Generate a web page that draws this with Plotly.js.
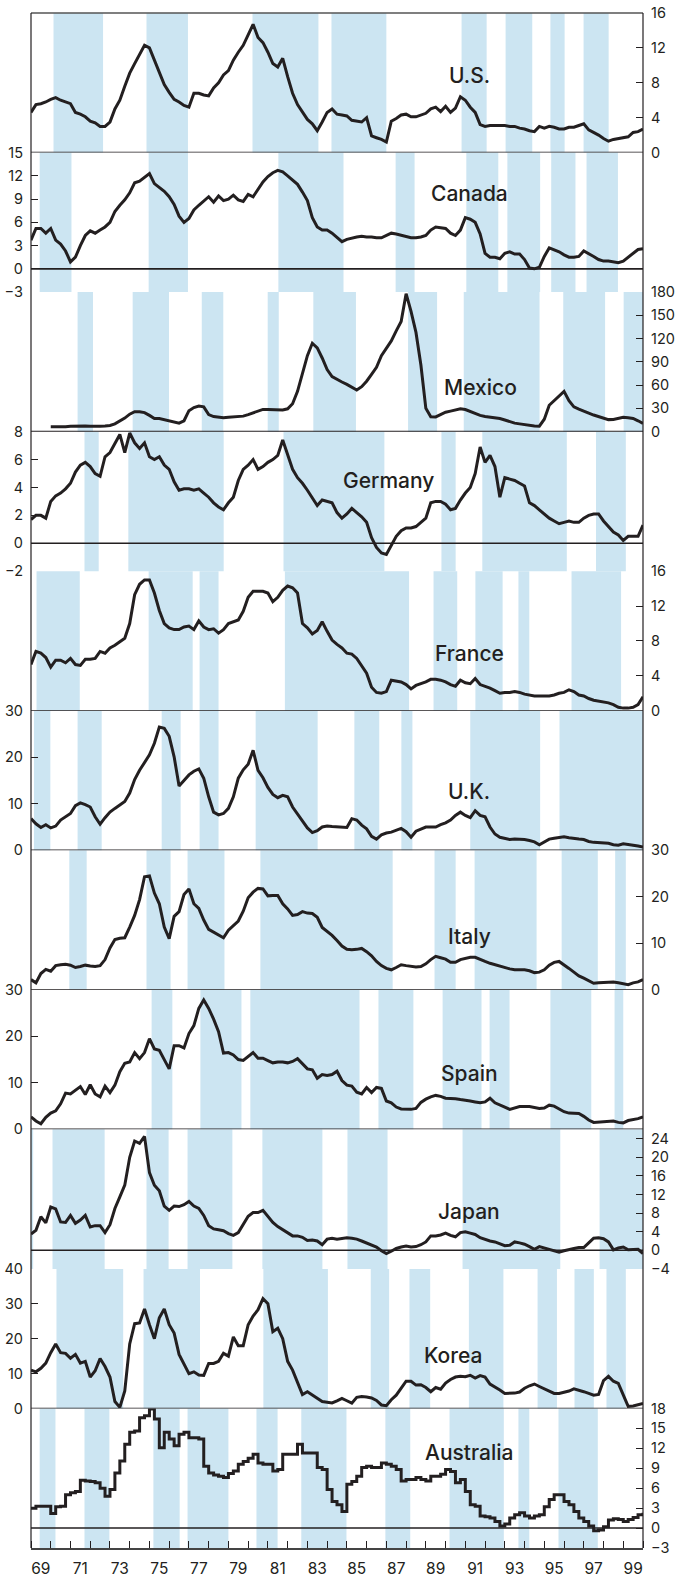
<!DOCTYPE html>
<html><head><meta charset="utf-8">
<script src="https://cdn.plot.ly/plotly-3.0.1.min.js"></script>
<style>html,body{margin:0;padding:0;background:#fff}#chart{width:676px;height:1578px}</style>
</head><body><div id="chart"></div>
<script>
// Quarterly readings, 1969.00 .. 2000.00 (125 points)
const startYear = 1969, endYear = 2000, perYear = 4;

const us = [4.6,5.5,5.6,5.8,6.1,6.3,6.0,5.8,5.6,4.6,
4.4,4.1,3.6,3.4,3.0,3.0,3.5,5.0,6.0,7.6,
9.1,10.2,11.2,12.3,12.0,10.6,9.4,7.8,6.9,6.1,
5.8,5.4,5.2,6.8,6.8,6.6,6.5,7.4,8.0,8.9,
9.4,10.6,11.5,12.3,13.5,14.7,13.2,12.6,11.5,10.2,
9.8,10.8,8.7,6.8,5.5,4.6,3.8,3.3,2.5,3.5,
4.6,5.0,4.4,4.3,4.2,3.7,3.6,3.5,4.0,1.9,
1.7,1.5,1.2,3.6,3.9,4.3,4.4,4.1,4.1,4.3,
4.5,5.0,5.2,4.7,5.3,4.6,5.1,6.4,6.0,5.2,
4.6,3.2,3.0,3.1,3.1,3.1,3.1,3.0,3.0,2.8,
2.7,2.5,2.4,3.0,2.8,3.0,2.9,2.7,2.7,2.9,
2.9,3.1,3.3,2.6,2.3,2.0,1.6,1.3,1.5,1.6,
1.7,1.8,2.3,2.4,2.7];

const canada = [3.7,5.2,5.2,4.6,5.2,3.7,3.2,2.3,0.9,1.5,
3.0,4.3,4.9,4.6,5.0,5.4,6.0,7.4,8.2,8.9,
9.8,11.1,11.3,11.8,12.3,11.0,10.5,10.0,9.3,8.3,
6.8,6.0,6.5,7.6,8.2,8.8,9.3,8.6,9.4,8.8,
9.0,9.5,8.9,8.7,9.6,9.3,10.3,11.2,11.9,12.4,
12.7,12.5,12.0,11.4,10.9,9.9,8.8,6.6,5.4,5.0,
5.0,4.6,4.0,3.5,3.8,4.0,4.1,4.2,4.1,4.1,
4.0,4.0,4.3,4.6,4.5,4.3,4.1,4.0,4.0,4.1,
4.3,5.0,5.4,5.3,5.2,4.6,4.3,5.0,6.6,6.4,
6.0,4.5,2.0,1.5,1.5,1.3,2.0,2.2,1.9,1.9,
1.2,0.1,0.0,0.2,1.6,2.7,2.5,2.2,1.8,1.5,
1.5,1.6,2.3,2.0,1.6,1.2,1.0,1.0,0.9,0.8,
1.0,1.5,1.9,2.5,2.6];

const mexico = [null,null,null,null,6.4,6.2,6.0,6.2,6.8,7.2,
7.3,7.3,7.0,6.5,6.8,7.3,8.0,10.0,13.5,17.5,
22.5,25.7,25.7,24.5,21.0,17.0,17.0,15.5,13.5,12.5,
11.0,14.0,27.0,31.0,33.0,32.0,22.0,19.5,18.5,18.0,
18.5,19.0,19.3,20.0,22.0,24.0,26.5,28.7,28.7,28.7,
28.0,28.0,29.5,36.0,52.0,75.0,98.0,114.0,108.0,95.0,
80.0,71.0,67.0,64.0,61.0,57.0,53.6,58.0,65.0,74.0,
83.0,98.0,108.0,117.0,130.0,142.0,178.0,155.0,128.0,86.0,
30.0,19.3,19.0,22.0,25.0,26.5,28.0,29.5,28.5,25.7,
23.0,21.0,19.5,18.5,17.5,17.0,15.0,12.5,11.0,10.0,
9.0,8.0,7.3,7.0,16.0,34.0,40.0,46.0,52.0,40.0,
32.0,29.0,26.0,24.0,21.4,19.5,17.0,15.5,15.7,17.0,
18.5,18.0,17.0,14.0,10.7];

const germany = [1.7,2.0,2.0,1.8,3.0,3.4,3.6,3.9,4.3,5.1,
5.6,5.8,5.5,5.0,4.8,6.2,6.5,7.2,7.8,6.5,
7.9,7.2,6.8,7.2,6.2,6.0,6.2,5.6,5.3,4.4,
3.8,3.9,3.9,3.8,3.9,3.6,3.3,2.9,2.6,2.4,
2.9,3.3,4.5,5.3,5.6,6.0,5.3,5.5,5.8,6.0,
6.3,7.4,6.4,5.3,4.7,4.3,3.8,3.2,2.7,3.1,
3.0,2.9,2.2,1.8,2.1,2.5,2.2,1.9,1.5,0.4,
-0.3,-0.7,-0.8,-0.1,0.5,0.9,1.1,1.1,1.2,1.5,
1.8,2.9,3.0,3.0,2.8,2.4,2.5,3.1,3.6,4.0,
5.0,6.9,5.8,6.3,5.5,3.3,4.7,4.6,4.5,4.3,
4.1,2.9,2.7,2.4,2.1,1.8,1.6,1.4,1.5,1.6,
1.5,1.5,1.8,2.0,2.1,2.1,1.6,1.2,0.8,0.6,
0.2,0.5,0.5,0.5,1.3];

const france = [5.3,6.8,6.6,6.1,5.0,5.8,5.8,5.5,6.0,5.3,
5.2,5.9,5.9,6.0,6.8,6.6,7.2,7.5,7.9,8.3,
10.0,13.3,14.5,15.0,15.0,13.5,11.5,10.0,9.5,9.3,
9.3,9.6,9.7,9.3,10.3,9.6,9.3,9.4,8.9,9.3,
10.0,10.2,10.4,11.4,13.0,13.7,13.7,13.7,13.5,12.5,
13.0,13.8,14.3,14.1,13.5,10.0,9.5,8.8,9.2,10.2,
9.1,8.1,7.6,7.2,6.6,6.5,6.0,5.1,4.3,2.7,
2.1,2.0,2.2,3.5,3.4,3.3,3.0,2.5,2.9,3.1,
3.3,3.6,3.6,3.5,3.3,3.0,2.8,3.5,3.2,3.1,
3.7,3.0,2.8,2.6,2.3,2.0,2.1,2.1,2.2,2.1,
1.9,1.8,1.7,1.7,1.7,1.7,1.8,2.0,2.1,2.4,
2.2,1.8,1.7,1.4,1.2,1.1,1.0,0.9,0.7,0.4,
0.3,0.3,0.4,0.7,1.6];

const uk = [6.8,5.7,4.9,5.5,4.8,5.2,6.5,7.3,7.9,9.6,
10.2,9.8,9.3,7.2,5.6,7.0,8.2,9.0,9.7,10.5,
12.3,15.2,17.2,18.8,20.5,23.0,26.5,26.2,24.5,20.1,
13.8,15.0,16.2,17.0,17.5,15.5,11.5,8.2,7.6,7.9,
9.0,11.5,15.5,17.3,18.5,21.5,17.2,15.6,13.5,12.0,
11.3,11.8,11.5,9.3,7.8,6.3,4.8,3.8,4.2,5.0,
5.2,5.1,5.0,4.9,4.9,6.8,6.5,5.4,4.6,3.0,
2.4,3.3,3.7,3.9,4.3,4.7,4.0,2.8,4.1,4.6,
5.0,5.0,5.0,5.5,5.9,6.5,7.5,8.2,7.5,7.0,
8.5,7.5,7.2,5.0,3.5,2.8,2.5,2.3,2.4,2.4,
2.3,2.1,1.8,1.2,1.8,2.4,2.6,2.8,2.9,2.7,
2.5,2.4,2.3,1.9,1.7,1.6,1.6,1.5,1.2,1.1,
1.4,1.3,1.1,0.9,0.7];

const italy = [2.2,1.5,3.5,4.4,4.0,5.2,5.4,5.5,5.3,4.8,
5.0,5.3,5.1,5.0,5.2,6.5,9.0,10.8,11.1,11.2,
13.5,16.0,19.4,24.3,24.5,20.8,18.5,13.5,11.0,15.8,
16.8,20.5,21.7,18.5,17.5,15.0,13.0,12.4,11.9,11.2,
12.8,13.8,14.8,16.9,19.8,21.0,21.8,21.7,20.2,20.3,
20.3,18.5,17.4,16.0,16.2,16.8,16.5,16.4,15.6,13.4,
12.6,11.7,10.6,9.4,8.7,8.6,8.7,8.9,8.2,7.3,
6.1,5.2,4.6,4.3,4.8,5.4,5.2,5.1,4.9,5.0,
5.6,6.5,7.2,6.9,6.6,5.9,5.9,6.5,6.8,7.0,
7.0,6.5,6.1,5.7,5.4,5.0,4.8,4.5,4.3,4.3,
4.3,4.1,3.7,3.8,4.3,5.3,5.9,6.1,5.4,4.6,
3.8,3.0,2.5,1.9,1.4,1.5,1.6,1.7,1.7,1.5,
1.3,1.1,1.5,1.7,2.2];

const spain = [2.7,1.8,1.2,2.6,3.5,4.0,5.5,7.8,7.6,8.5,
9.2,7.5,9.6,7.6,7.0,9.3,7.9,9.5,12.4,14.2,
14.5,16.5,15.2,16.5,19.5,17.3,17.0,15.0,13.0,18.0,
18.0,17.5,20.6,22.3,26.0,27.8,26.0,23.7,21.0,16.4,
16.5,16.0,15.0,14.8,15.6,16.5,15.3,15.3,14.8,14.3,
14.5,14.5,14.3,14.6,15.2,14.0,13.0,12.8,11.0,11.8,
11.6,11.8,12.5,10.5,9.5,9.3,8.0,7.6,9.0,7.9,
9.0,8.8,6.1,5.7,4.8,4.4,4.3,4.3,4.5,5.8,
6.5,7.0,7.3,7.1,6.7,6.7,6.6,6.4,6.3,6.1,
5.9,5.7,5.9,6.7,5.7,5.3,4.8,4.3,4.6,4.9,
4.9,4.9,4.7,4.5,4.6,5.2,5.0,4.4,3.8,3.5,
3.4,3.4,2.8,2.0,1.5,1.6,1.7,1.8,1.8,1.5,
1.4,1.9,2.1,2.3,2.7];

const japan = [3.5,4.3,7.2,5.9,9.3,8.9,6.1,6.0,7.5,5.8,
6.5,7.5,5.0,5.3,5.3,3.8,5.5,9.0,11.5,14.0,
20.0,23.5,23.0,24.5,16.7,14.0,12.8,9.5,8.6,9.5,
9.4,9.8,10.5,9.5,9.0,7.5,5.3,4.6,4.4,4.2,
3.6,3.2,3.8,5.5,7.3,8.1,8.1,8.6,7.3,6.0,
5.1,4.4,3.7,3.1,3.1,2.8,2.1,2.2,2.0,1.2,
2.4,2.6,2.4,2.5,2.7,2.6,2.4,2.0,1.6,1.2,
0.7,-0.1,-0.7,-0.2,0.4,0.7,0.9,0.7,0.8,1.2,
1.8,3.1,3.1,3.3,3.7,3.2,2.9,3.8,4.0,3.7,
3.4,2.7,2.3,2.0,1.8,1.4,1.0,1.1,1.8,1.6,
1.3,0.8,0.2,0.8,0.5,0.2,-0.1,-0.4,-0.1,0.2,
0.4,0.6,0.6,1.6,2.6,2.7,2.5,1.8,0.1,0.5,
0.7,0.1,0.1,0.2,-0.7];

const korea = [11.0,10.5,11.5,13.0,16.0,18.5,16.0,15.8,14.4,15.5,
13.0,13.5,9.0,10.8,14.3,12.0,9.0,2.0,0.3,5.0,
18.5,24.3,24.5,28.5,24.0,20.0,26.0,28.5,24.0,21.6,
15.5,12.5,10.0,10.5,9.6,9.5,12.9,12.9,13.5,15.8,
15.0,20.5,18.0,18.0,24.0,26.5,28.3,31.5,30.0,22.0,
23.0,20.0,13.5,11.0,7.5,4.0,4.8,3.8,2.8,2.0,
1.8,1.6,2.2,2.9,2.2,1.5,3.2,3.4,3.3,3.0,
2.3,1.0,0.8,2.5,3.8,5.8,7.8,7.8,6.7,6.8,
6.0,4.8,6.0,5.5,7.3,8.3,9.0,9.2,9.1,9.5,
8.7,9.4,9.0,7.0,6.2,5.3,4.3,4.3,4.4,4.7,
5.8,6.5,7.0,6.3,5.6,4.8,4.3,4.3,4.6,5.0,
5.6,5.3,4.8,4.3,3.8,4.0,8.0,9.2,7.8,7.2,
4.0,0.6,0.7,1.0,1.4];

const australia = [3.0,3.3,3.3,3.3,2.2,3.2,3.3,5.0,5.3,5.5,
7.2,7.1,7.0,6.8,6.0,4.8,5.8,8.3,10.1,12.6,
14.4,14.6,16.6,16.9,17.9,16.4,12.1,14.4,13.4,12.4,
14.1,14.4,13.6,13.6,13.4,9.3,8.3,8.0,7.8,7.6,
8.2,8.6,9.6,10.0,10.5,11.1,9.8,9.6,9.6,8.6,
8.8,11.1,11.1,11.1,12.6,11.3,11.3,11.3,9.1,8.8,
5.8,4.0,3.5,2.5,6.6,7.0,7.8,9.1,9.3,9.1,
9.1,9.8,9.6,9.3,8.8,7.1,7.3,7.3,7.6,7.3,
7.1,7.8,7.8,8.1,8.8,8.5,6.8,7.3,5.5,3.5,
3.3,1.8,1.7,1.5,1.0,0.3,0.6,1.5,2.0,2.3,
1.8,1.5,1.8,2.0,3.2,4.3,5.0,5.0,4.0,3.5,
2.5,1.5,1.0,0.3,-0.4,-0.3,0.2,1.2,1.4,1.3,
1.0,1.3,1.6,2.0,2.3];

// Shaded periods [start, end] in years
const usBands = [[1970.14,1972.65],[1974.85,1976.95],[1980.22,1983.56],[1984.22,1987.0],[1990.81,1992.08],[1993.04,1994.39],[1995.31,1996.03],[1996.99,1998.26]];
const canadaBands = [[1969.44,1971.05],[1974.96,1976.95],[1981.53,1984.83],[1987.47,1988.43],[1991.05,1992.67],[1993.13,1994.79],[1995.35,1996.58],[1997.14,1998.73]];
const mexicoBands = [[1971.36,1972.14],[1974.15,1975.99],[1977.65,1978.74],[1980.99,1981.55],[1983.30,1985.46],[1988.10,1989.57],[1990.92,1994.76],[1995.96,1998.08],[1999.02,2000]];
const germanyBands = [[1971.71,1972.43],[1973.93,1978.76],[1981.79,1986.90],[1989.79,1990.51],[1991.86,1996.14],[1997.62,1999.13]];
const franceBands = [[1969.28,1971.47],[1974.96,1977.19],[1977.54,1978.50],[1981.86,1988.15],[1989.39,1990.59],[1991.51,1992.89],[1993.69,1994.24],[1996.38,1998.89]];
const ukBands = [[1969.15,1969.98],[1971.36,1972.58],[1975.62,1976.58],[1977.54,1978.50],[1980.38,1983.52],[1985.38,1986.64],[1987.76,1988.32],[1991.25,1994.79],[1995.77,2000]];
const italyBands = [[1970.94,1971.82],[1974.85,1976.07],[1976.93,1978.80],[1980.62,1987.32],[1989.44,1990.51],[1991.47,1994.61],[1995.88,1997.71],[1998.59,1999.13]];
const spainBands = [[1975.11,1976.16],[1977.58,1979.66],[1980.11,1985.64],[1986.60,1988.37],[1989.85,1991.82],[1992.23,1993.24],[1995.31,1997.38],[1998.56,1999.0]];
const japanBands = [[1969.0,1969.11],[1970.09,1972.73],[1974.85,1975.97],[1976.93,1979.20],[1980.72,1983.76],[1985.03,1987.06],[1990.86,1995.81],[1997.80,2000]];
const koreaBands = [[1970.29,1973.67],[1974.70,1977.56],[1980.77,1984.04],[1986.21,1987.14],[1988.17,1989.22],[1991.18,1992.93],[1994.66,1995.64],[1996.53,1997.51],[1998.15,1999.13]];
const australiaBands = [[1969.44,1970.24],[1971.71,1972.97],[1975.20,1976.53],[1976.93,1979.0],[1980.42,1981.49],[1982.69,1984.98],[1986.95,1988.21],[1990.20,1992.95],[1993.69,1994.24],[1995.72,1997.71]];

const countryNames = ['U.S.','Canada','Mexico','Germany','France','U.K.','Italy','Spain','Japan','Korea','Australia'];
const yTicks = [[0,4,8,12,16],[-3,0,3,6,9,12,15],[0,30,60,90,120,150,180],[-2,0,2,4,6,8],[0,4,8,12,16],[0,10,20,30],[0,10,20,30],[0,10,20,30],[-4,0,4,8,12,16,20,24],[0,10,20,30,40],[-3,0,3,6,9,12,15,18]];
const xTickLabels = ['69','71','73','75','77','79','81','83','85','87','89','91','93','95','97','99'];

const series = [us,canada,mexico,germany,france,uk,italy,spain,japan,korea,australia];
const bands = [usBands,canadaBands,mexicoBands,germanyBands,franceBands,ukBands,italyBands,spainBands,japanBands,koreaBands,australiaBands];

// Layout settings (not data)
const yRanges = [[0,16],[-3,15],[0,180],[-2,8],[0,16],[0,30],[0,30],[0,30],[-4,26],[0,40],[-3,18]];
const ySides = ['right','left','right','left','right','left','right','left','right','left','right'];
const labelPos = [[1991.2,0.551],[1991.2,0.705],[1991.75,0.315],[1987.1,0.649],[1991.2,0.409],[1991.2,0.419],[1991.2,0.381],[1991.2,0.399],[1991.2,0.41],[1990.37,0.378],[1991.2,0.685]];

const INK = '#231f20', BAND = '#cce5f2', FONT = 'Inter, "Open Sans", sans-serif';
const years = [];
for (let k = 0; k <= (endYear - startYear) * perYear; k++) years.push(startYear + k / perYear);

const N = series.length;
const traces = [], shapes = [], lineShapes = [], annotations = [];
const layout = {
  width: 676, height: 1578,
  margin: {l: 31, r: 33, t: 13, b: 30, pad: 0},
  paper_bgcolor: '#fff', plot_bgcolor: 'rgba(0,0,0,0)',
  showlegend: false,
  font: {family: FONT, color: INK, size: 15},
  xaxis: {
    domain: [0, 1], range: [startYear, endYear], anchor: 'y' + N,
    showgrid: false, zeroline: false, showline: true, linecolor: '#444', linewidth: 2,
    tickmode: 'array',
    tickvals: xTickLabels.map((t, i) => startYear + 2 * i + 0.5),
    ticktext: xTickLabels, ticks: '', ticklabelstandoff: 5,
    tickfont: {family: FONT, size: 15.5, color: INK},
    minor: {tickmode: 'linear', tick0: startYear, dtick: 1, ticks: 'inside', ticklen: 7, tickwidth: 1, tickcolor: INK, showgrid: false},
    fixedrange: true
  }
};

series.forEach((vals, i) => {
  const n = i + 1;
  const ya = n === 1 ? 'y' : 'y' + n;
  const yk = n === 1 ? 'yaxis' : 'yaxis' + n;
  layout[yk] = {
    domain: [1 - (i + 1) / N, 1 - i / N], range: yRanges[i], anchor: 'x', side: ySides[i],
    tickmode: 'array', tickvals: yTicks[i], ticks: 'inside', ticklen: 7, tickwidth: 1, tickcolor: INK,
    showgrid: false, zeroline: false, showline: false, ticklabelstandoff: 7,
    tickfont: {family: FONT, size: 14.5, color: INK}, fixedrange: true
  };
  traces.push({
    type: 'scatter', mode: 'lines', x: years, y: vals, xaxis: 'x', yaxis: ya,
    line: {color: INK, width: 3, shape: countryNames[i] === 'Australia' ? 'hv' : 'linear'},
    hoverinfo: 'skip', connectgaps: false
  });
  bands[i].forEach(b => shapes.push({
    type: 'rect', xref: 'x', yref: ya + ' domain', x0: b[0], x1: b[1], y0: 0, y1: 1,
    fillcolor: BAND, line: {width: 0}, layer: 'below'
  }));
  lineShapes.push({type: 'line', xref: 'paper', yref: ya, x0: 0, x1: 1, y0: 0, y1: 0,
    line: {color: INK, width: 1.6}, layer: 'below'});
  annotations.push({
    text: countryNames[i], xref: 'x', yref: ya + ' domain', x: labelPos[i][0], y: labelPos[i][1],
    xanchor: 'center', yanchor: 'middle', showarrow: false,
    font: {family: FONT, size: 21, weight: 500, color: INK}
  });
});

// frame
lineShapes.push({type: 'line', xref: 'paper', yref: 'paper', x0: 0, x1: 1, y0: 1, y1: 1, line: {color: '#555', width: 1.5}, layer: 'above'});
lineShapes.push({type: 'line', xref: 'paper', yref: 'paper', x0: 0, x1: 0, y0: 0, y1: 1, line: {color: INK, width: 1.2}, layer: 'above'});
lineShapes.push({type: 'line', xref: 'paper', yref: 'paper', x0: 1, x1: 1, y0: 0, y1: 1, line: {color: INK, width: 1.2}, layer: 'above'});

layout.shapes = shapes.concat(lineShapes);
layout.annotations = annotations;

Plotly.newPlot('chart', traces, layout, {displayModeBar: false, staticPlot: true});
</script>
</body></html>
